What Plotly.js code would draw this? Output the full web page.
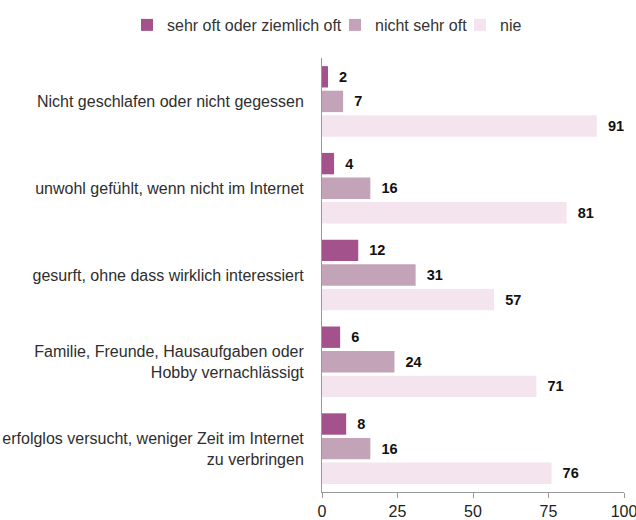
<!DOCTYPE html>
<html>
<head>
<meta charset="utf-8">
<script src="https://cdn.plot.ly/plotly-3.0.1.min.js"></script>
<style>html,body{margin:0;padding:0;background:#fff;}#chart{width:636px;height:520px;}</style>
</head>
<body>
<div id="chart"></div>
<script>
var categories = [
  "Nicht geschlafen oder nicht gegessen",
  "unwohl gefühlt, wenn nicht im Internet",
  "gesurft, ohne dass wirklich interessiert",
  "Familie, Freunde, Hausaufgaben oder<br>Hobby vernachlässigt",
  "erfolglos versucht, weniger Zeit im Internet<br>zu verbringen"
];
var seriesNames = ["sehr oft oder ziemlich oft", "nicht sehr oft", "nie"];
var sehrOft = [2, 4, 12, 6, 8];
var nichtSehrOft = [7, 16, 31, 24, 16];
var nie = [91, 81, 57, 71, 76];
var xTicks = [0, 25, 50, 75, 100];

var colors = ["#a3528c", "#c3a3b7", "#f4e4ee"];
var legendWidths = [163, 80, 30];
var values = [sehrOft, nichtSehrOft, nie];

var traces = values.map(function (v, i) {
  return {
    type: "bar",
    orientation: "h",
    name: seriesNames[i],
    y: categories,
    x: v,
    marker: { color: colors[i] },
    texttemplate: "\u00a0\u00a0%{x}",
    textposition: "outside",
    cliponaxis: false,
    textfont: { family: "Liberation Sans, Arial, sans-serif", size: 14.5, color: "#111", weight: "bold" },
    legendwidth: legendWidths[i],
    hoverinfo: "x+name"
  };
});

var mL = 322, mR = 12, mT = 58, mB = 28;
var plotW = 636 - mL - mR, plotH = 520 - mT - mB;

var layout = {
  width: 636,
  height: 520,
  margin: { l: mL, r: mR, t: mT, b: mB, autoexpand: false },
  paper_bgcolor: "#fff",
  plot_bgcolor: "#fff",
  barmode: "group",
  bargap: 0.15,
  bargroupgap: 0.13,
  font: { family: "Liberation Sans, Arial, sans-serif", size: 16, color: "#333" },
  showlegend: true,
  legend: {
    orientation: "h",
    xref: "paper",
    x: (127 - mL) / plotW,
    xanchor: "left",
    yref: "paper",
    y: 1 + (mT - 25) / plotH,
    yanchor: "middle",
    font: { size: 16, color: "#333" },
    itemwidth: 30,
    traceorder: "normal",
    bgcolor: "rgba(0,0,0,0)"
  },
  xaxis: {
    range: [0, 100],
    tickvals: xTicks,
    ticktext: xTicks.map(String),
    showgrid: false,
    zeroline: false,
    showline: true,
    linecolor: "#999",
    linewidth: 1,
    ticks: "outside",
    ticklen: 5,
    tickcolor: "#999",
    ticklabeloverflow: "allow",
    tickfont: { size: 16, color: "#222" },
    fixedrange: true
  },
  yaxis: {
    autorange: "reversed",
    showgrid: false,
    zeroline: false,
    showline: true,
    linecolor: "#999",
    linewidth: 1,
    ticks: "",
    ticklabelstandoff: 14,
    tickfont: { size: 16, color: "#2e2e2e" },
    fixedrange: true
  }
};

Plotly.newPlot("chart", traces, layout, { displayModeBar: false, staticPlot: true });
</script>
</body>
</html>
